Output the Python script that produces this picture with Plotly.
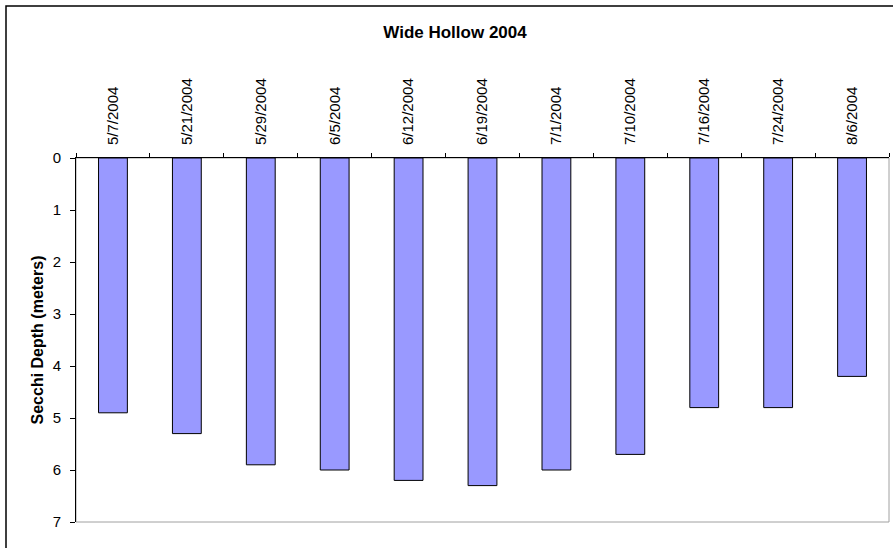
import plotly.graph_objects as go

# Sampling dates and Secchi depth readings (meters)
dates = ["5/7/2004", "5/21/2004", "5/29/2004", "6/5/2004", "6/12/2004", "6/19/2004",
         "7/1/2004", "7/10/2004", "7/16/2004", "7/24/2004", "8/6/2004"]
depths = [4.9, 5.3, 5.9, 6.0, 6.2, 6.3, 6.0, 5.7, 4.8, 4.8, 4.2]
y_ticks = [0, 1, 2, 3, 4, 5, 6, 7]

W, H = 893, 548
L, R, T, B = 76, 4, 158, 26
pw, ph = W - L - R, H - T - B


def px_x(x):
    return (x - L) / pw


def px_y(y):
    return 1 - (y - T) / ph


fig = go.Figure(
    go.Bar(
        x=dates,
        y=depths,
        width=0.39,
        marker=dict(color="#9999FF", line=dict(color="#000000", width=1)),
    )
)

fig.update_layout(
    width=W,
    height=H,
    margin=dict(l=L, r=R, t=T, b=B),
    paper_bgcolor="white",
    plot_bgcolor="white",
    font=dict(family="Arial, Liberation Sans, sans-serif", size=15, color="black"),
    showlegend=False,
    title=dict(
        text="<b>Wide Hollow 2004</b>",
        x=455 / W,
        xref="container",
        xanchor="center",
        y=1 - 32 / H,
        yanchor="middle",
        font=dict(size=17),
    ),
    shapes=[
        # plot area frame
        dict(type="rect", xref="paper", yref="paper", x0=0, x1=1, y0=0, y1=1,
             line=dict(color="#A0A0A0", width=1), layer="below"),
        # chart border
        dict(type="rect", xref="paper", yref="paper",
             x0=px_x(6), x1=px_x(W + 5), y0=px_y(H + 5), y1=px_y(6),
             line=dict(color="black", width=1.5), layer="below"),
    ],
)

fig.update_xaxes(
    type="category",
    side="top",
    tickangle=-90,
    tickson="boundaries",
    ticks="outside",
    ticklen=4,
    tickcolor="black",
    showline=True,
    linecolor="black",
    linewidth=1,
    showgrid=False,
    tickfont=dict(size=15),
    ticklabelstandoff=9,
)

fig.update_yaxes(
    range=[7, 0],
    tickvals=y_ticks,
    ticks="outside",
    ticklen=5,
    tickcolor="black",
    showline=True,
    linecolor="black",
    linewidth=1,
    showgrid=False,
    zeroline=False,
    tickfont=dict(size=15),
    ticklabelstandoff=6,
    title=dict(text="<b>Secchi Depth (meters)</b>", font=dict(size=16), standoff=5),
)

fig.write_html("out.html")
